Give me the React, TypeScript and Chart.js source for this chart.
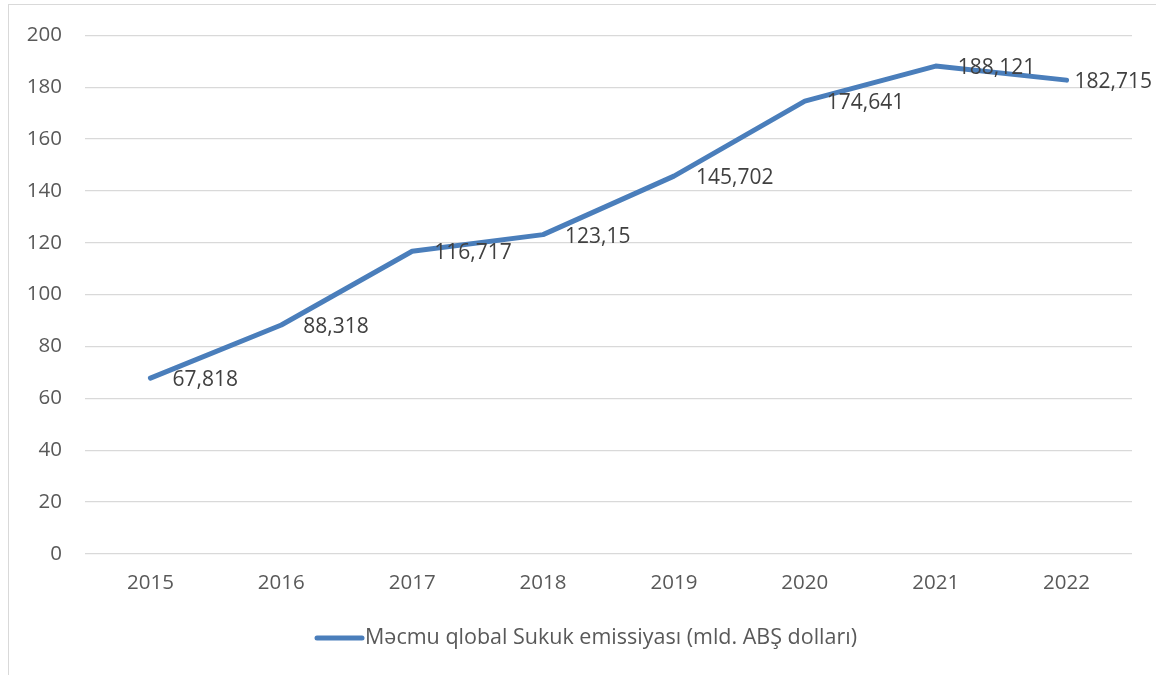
import React, { useEffect, useRef } from "react";
import { Chart, registerables } from "chart.js";

Chart.register(...registerables);

const years = ["2015", "2016", "2017", "2018", "2019", "2020", "2021", "2022"];
const issuance = [67.818, 88.318, 116.717, 123.15, 145.702, 174.641, 188.121, 182.715];
const valueLabels = ["67,818", "88,318", "116,717", "123,15", "145,702", "174,641", "188,121", "182,715"];
const seriesName = "Məcmu qlobal Sukuk emissiyası (mld. ABŞ dolları)";

const FONT = "'Open Sans', Lato, sans-serif";
const LINE_COLOR = "#4a7ebb";

export default function App() {
  const ref = useRef<HTMLCanvasElement | null>(null);

  useEffect(() => {
    document.body.style.margin = "0";
    const canvas = ref.current;
    if (!canvas) return;

    const labelPlugin = {
      id: "valueLabels",
      afterDatasetsDraw(chart: any) {
        const ctx = chart.ctx;
        const meta = chart.getDatasetMeta(0);
        ctx.save();
        ctx.font = `21px ${FONT}`;
        ctx.fillStyle = "#404040";
        ctx.textAlign = "left";
        ctx.textBaseline = "middle";
        meta.data.forEach((pt: any, i: number) => {
          const w = ctx.measureText(valueLabels[i]).width;
          let x = pt.x + 22;
          if (x + w > 1152) x = 1152 - w;
          ctx.fillText(valueLabels[i], x, pt.y + 2);
        });
        ctx.restore();
      },
      afterDraw(chart: any) {
        const ctx = chart.ctx;
        ctx.save();
        ctx.strokeStyle = LINE_COLOR;
        ctx.lineWidth = 5;
        ctx.lineCap = "round";
        ctx.beginPath();
        ctx.moveTo(317, 638);
        ctx.lineTo(362, 638);
        ctx.stroke();
        ctx.font = `21.5px ${FONT}`;
        ctx.fillStyle = "#595959";
        ctx.textAlign = "left";
        ctx.textBaseline = "middle";
        ctx.fillText(seriesName, 365, 638);
        ctx.restore();
      },
    };

    const chart = new Chart(canvas, {
      type: "line",
      data: {
        labels: years,
        datasets: [
          {
            label: seriesName,
            data: issuance,
            borderColor: LINE_COLOR,
            backgroundColor: LINE_COLOR,
            borderWidth: 5,
            pointRadius: 0,
            tension: 0,
            borderCapStyle: "round",
            borderJoinStyle: "round",
          },
        ],
      },
      options: {
        responsive: false,
        animation: false,
        layout: { padding: { left: 0, top: 34, right: 24, bottom: 0 } },
        plugins: {
          legend: { display: false },
          tooltip: { enabled: false },
        },
        scales: {
          x: {
            offset: true,
            grid: { display: false, drawTicks: false },
            border: { display: false },
            ticks: { color: "#595959", font: { family: FONT, size: 20.5 }, padding: 17 },
            afterFit(scale: any) {
              scale.height = 121;
            },
          },
          y: {
            min: 0,
            max: 200,
            ticks: { stepSize: 20, color: "#595959", font: { family: FONT, size: 20.5 }, padding: 23 },
            grid: { color: "#d9d9d9", lineWidth: 1.3, drawTicks: false },
            border: { display: false },
            afterFit(scale: any) {
              scale.width = 85;
            },
          },
        },
      },
      plugins: [labelPlugin],
    } as any);

    return () => chart.destroy();
  }, []);

  return (
    <div style={{ position: "relative", width: 1156, height: 675, overflow: "hidden", background: "#fff" }}>
      <div
        style={{
          position: "absolute",
          left: 8,
          top: 4,
          width: 1200,
          height: 700,
          border: "1.5px solid #d9d9d9",
          boxSizing: "border-box",
        }}
      />
      <canvas ref={ref} width={1156} height={675} style={{ position: "absolute", left: 0, top: 0 }} />
    </div>
  );
}
